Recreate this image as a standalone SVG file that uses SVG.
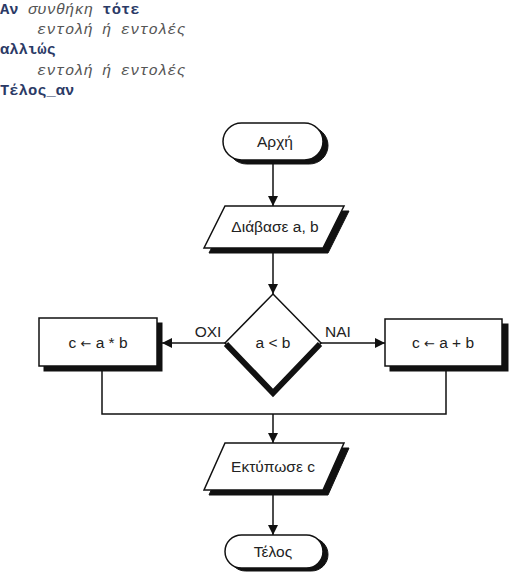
<svg xmlns="http://www.w3.org/2000/svg" width="516" height="580" viewBox="0 0 516 580">
<defs>
<style>
.kw{font-family:"Liberation Mono","DejaVu Sans Mono",monospace;font-size:15.5px;font-weight:bold;fill:#2b3a66}
.it{font-family:"Liberation Mono","DejaVu Sans Mono",monospace;font-size:15.5px;font-style:italic;fill:#555}
.lbl{font-family:"Liberation Sans",Arial,sans-serif;font-size:15.5px;fill:#222;text-anchor:middle}
.ar{font-family:"DejaVu Sans",sans-serif;font-size:13px}
.shape{fill:#fff;stroke:#111;stroke-width:1.5}
.shadow{fill:#111;stroke:#111;stroke-width:1}
.line{fill:none;stroke:#111;stroke-width:1.5}
</style>
<marker id="arr" viewBox="0 0 10 10" refX="10" refY="5" markerWidth="10" markerHeight="10" markerUnits="userSpaceOnUse" orient="auto">
<path d="M0,0 L10,5 L0,10 Z" fill="#111"/>
</marker>
</defs>
<rect width="516" height="580" fill="#fff"/>
<g id="code">
<text x="0" y="14"><tspan class="kw">Αν</tspan><tspan class="it"> συνθήκη </tspan><tspan class="kw">τότε</tspan></text>
<text class="it" x="37" y="34">εντολή ή εντολές</text>
<text class="kw" x="0" y="54">αλλιώς</text>
<text class="it" x="37" y="74.5">εντολή ή εντολές</text>
<text class="kw" x="0" y="94.5">Τέλος_αν</text>
</g>
<g id="connectors">
<line class="line" x1="273" y1="160" x2="273" y2="206" marker-end="url(#arr)"/>
<line class="line" x1="273" y1="252" x2="273" y2="294" marker-end="url(#arr)"/>
<line class="line" x1="225" y1="343" x2="162" y2="343" marker-end="url(#arr)"/>
<line class="line" x1="321" y1="343" x2="385" y2="343" marker-end="url(#arr)"/>
<polyline class="line" points="102,371 102,414 446,414 446,371"/>
<line class="line" x1="273" y1="414" x2="273" y2="443" marker-end="url(#arr)"/>
<line class="line" x1="273" y1="494" x2="273" y2="535" marker-end="url(#arr)"/>
<text class="lbl" x="208" y="337">ΟΧΙ</text>
<text class="lbl" x="338" y="337">ΝΑΙ</text>
</g>
<g id="start">
<rect class="shadow" x="228" y="127" width="100" height="37" rx="18.5"/>
<rect class="shape" x="223" y="123" width="100" height="37" rx="18.5"/>
<text class="lbl" x="275" y="147">Αρχή</text>
</g>
<g id="read">
<polygon class="shadow" points="230,211 349,211 328,253 209,253"/>
<polygon class="shape" points="225,206 344,206 323,248 204,248"/>
<text class="lbl" x="275" y="232">Διάβασε a, b</text>
</g>
<g id="decision">
<polygon class="shape" points="273,294 321,343 273,393 225,343"/>
<polyline points="226,344 273,393 320,344" fill="none" stroke="#111" stroke-width="6" stroke-linejoin="miter"/>
<text class="lbl" x="273" y="348">a &lt; b</text>
</g>
<g id="no-box">
<rect class="shadow" x="44" y="323" width="118" height="48"/>
<rect class="shape" x="39" y="318" width="118" height="48"/>
<text class="lbl" x="98" y="348">c <tspan class="ar">←</tspan> a * b</text>
</g>
<g id="yes-box">
<rect class="shadow" x="390" y="324" width="118" height="47"/>
<rect class="shape" x="385" y="319" width="117" height="47"/>
<text class="lbl" x="443" y="348">c <tspan class="ar">←</tspan> a + b</text>
</g>
<g id="print">
<polygon class="shadow" points="230,448 349,448 328,495 209,495"/>
<polygon class="shape" points="225,443 344,443 323,490 204,490"/>
<text class="lbl" x="273" y="472">Εκτύπωσε c</text>
</g>
<g id="end">
<rect class="shadow" x="229" y="538" width="99" height="33" rx="16.5"/>
<rect class="shape" x="225" y="535" width="98" height="33" rx="16.5"/>
<text class="lbl" x="273" y="557">Τέλος</text>
</g>
</svg>
